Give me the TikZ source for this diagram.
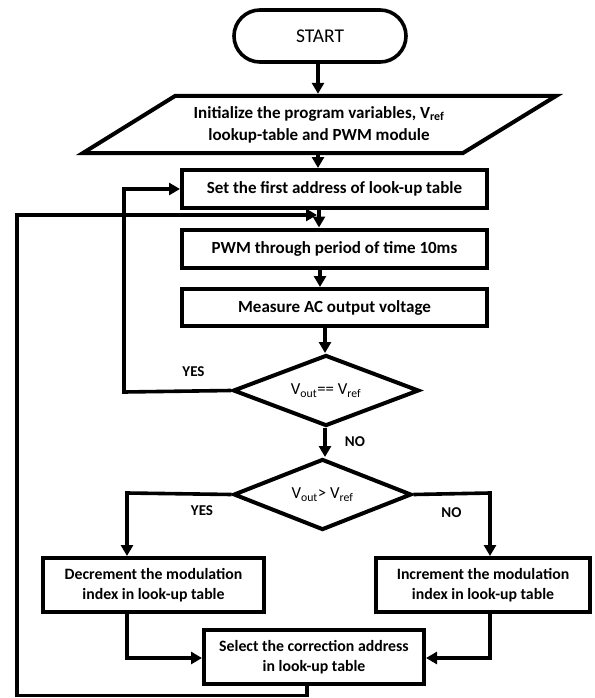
\documentclass[tikz,border=0pt]{standalone}
\usepackage{fontspec}
\setmainfont{Carlito}
\usetikzlibrary{arrows.meta,shapes.geometric}
\newcommand\lowsub[1]{\textsubscript{#1}}
\begin{document}
\begin{tikzpicture}[x=1pt,y=-1pt,
  term/.style={draw, line width=3.6pt, rounded corners=26pt, minimum width=172pt, minimum height=52pt, inner sep=0pt, font=\fontsize{19.5}{22}\selectfont},
  box/.style={draw, line width=4pt, rectangle, minimum width=305pt, minimum height=38pt, inner sep=0pt, align=center, font=\bfseries\fontsize{17}{20}\selectfont},
  sbox/.style={box, minimum width=220pt, minimum height=54pt, font=\bfseries\fontsize{15.8}{20}\selectfont},
  dia/.style={diamond, draw, line width=4pt, aspect=2.6, inner sep=0pt, font=\fontsize{16.8}{18}\selectfont},
  lbl/.style={font=\bfseries\fontsize{15}{18}\selectfont, inner sep=0pt},
  ln/.style={line width=3.6pt},
  arr/.style={ln, -{Triangle[width=12pt,length=11pt]}}
]
\useasboundingbox (0,0) rectangle (594,698);
% shapes
\node[term] (start) at (320,36) {START};
\draw[line width=4pt] (175,96) -- (556,96) -- (463,153) -- (83,153) -- cycle;
\node[inner sep=0pt, minimum height=61pt, align=center, font=\bfseries\fontsize{17}{22}\selectfont] (init) at (319,124.5)
  {Initialize the program variables, V\lowsub{ref}\\lookup-table and PWM module};
\node[box] (set) at (334.5,189) {Set the first address of look-up table};
\node[box] (pwm) at (334.5,248.5) {PWM through period of time 10ms};
\node[box, minimum height=37pt] (meas) at (334.5,307.5) {Measure AC output voltage};
\node[dia, minimum width=186pt, minimum height=71pt] (d1) at (326,390.5) {V\lowsub{out}== V\lowsub{ref}};
\node[dia, minimum width=178pt, minimum height=71pt] (d2) at (322.5,494.5) {V\lowsub{out}> V\lowsub{ref}};
\node[sbox, minimum width=221pt] (dec) at (153.5,585) {Decrement the modulation\\index in look-up table};
\node[sbox, minimum width=214pt] (inc) at (483,585) {Increment the modulation\\index in look-up table};
\node[sbox] (sel) at (314,657) {Select the correction address\\in look-up table};
% labels
\node[lbl] (yes1) at (193.5,371.5) {YES};
\node[lbl] (no1) at (355,441.5) {NO};
\node[lbl] (yes2) at (202,511) {YES};
\node[lbl] (no2) at (451.5,513) {NO};
% connectors
\draw[arr] (318,0 |- start.south) -- (318,0 |- init.north);
\draw[arr] (318,0 |- init.south) -- (318,0 |- set.north);
\draw[arr] (319,0 |- set.south) -- (319,0 |- pwm.north);
\draw[arr] (320,0 |- pwm.south) -- (320,0 |- meas.north);
\draw[arr] (325,0 |- meas.south) -- (325,0 |- d1.north);
\draw[arr] (325,0 |- d1.south) -- (325,0 |- d2.north);
\coordinate (yesA) at (124,392);
\draw[arr] (d1.west) -- (yesA) -- (124,189) -- (set.west);
\draw[arr] (d2.west) -- (127,493) -- (127,0 |- dec.north);
\draw[arr] (d2.east) -- (490,493) -- (490,0 |- inc.north);
\draw[arr] (127,0 |- dec.south) -- (127,658) -- (sel.west |- 0,658);
\draw[arr] (490,0 |- inc.south) -- (490,658) -- (sel.east |- 0,658);
\coordinate (loopEnd) at (317,215);
\draw[arr] (307,0 |- sel.south) -- (307,695.5) -- (17,695.5) -- (17,215) -- (loopEnd);
\end{tikzpicture}
\end{document}
